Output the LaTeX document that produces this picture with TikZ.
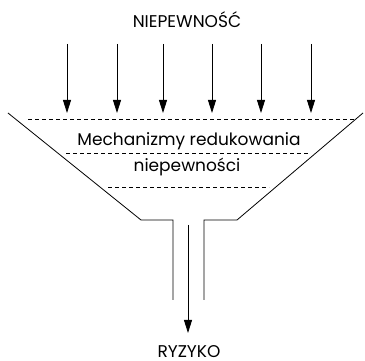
\documentclass[tikz,border=0pt]{standalone}
\usepackage{fontspec}
\setmainfont{Poppins}
\usetikzlibrary{arrows.meta}
\begin{document}
\begin{tikzpicture}[x=1pt,y=-1pt,
  line width=0.8pt,
  flow/.style={-{Triangle[width=8pt,length=13pt]}},
  level/.style={dashed,dash pattern=on 4pt off 3pt,line width=0.7pt},
  txt/.style={font=\fontsize{17}{20}\selectfont,inner sep=0pt,anchor=base}]
  \useasboundingbox (0,0) rectangle (365,361);
  % titles
  \node[txt] (unc) at (187,28) {NIEPEWNOŚĆ};
  \node[txt] (risk) at (189,357) {RYZYKO};
  \node[txt] (mech1) at (189,146) {Mechanizmy redukowania};
  \node[txt] (mech2) at (187,172) {niepewności};
  % incoming uncertainty arrows
  \foreach \i/\x in {1/67,2/117,3/163,4/212,5/261,6/311} {
    \coordinate (s\i) at (\x,44);
    \coordinate (e\i) at (\x,113);
    \draw[flow] (s\i) -- (e\i);
  }
  % funnel outline
  \coordinate (tl) at (8,113);
  \coordinate (bl) at (141,220);
  \coordinate (nl) at (173,220);
  \coordinate (ql) at (173,300);
  \coordinate (tr) at (363,113);
  \coordinate (br) at (237,220);
  \coordinate (nr) at (204,220);
  \coordinate (qr) at (204,300);
  \draw (tl) -- (bl) -- (nl) -- (ql);
  \draw (tr) -- (br) -- (nr) -- (qr);
  % dashed levels inside the funnel
  \coordinate (d1a) at (28,119);  \coordinate (d1b) at (354,119);
  \coordinate (d2a) at (66,153);  \coordinate (d2b) at (308,153);
  \coordinate (d3a) at (108,187); \coordinate (d3b) at (269,187);
  \draw[level] (d1a) -- (d1b);
  \draw[level] (d2a) -- (d2b);
  \draw[level] (d3a) -- (d3b);
  % outgoing risk arrow
  \coordinate (os) at (188,225);
  \coordinate (oe) at (188,333);
  \draw[flow] (os) -- (oe);
\end{tikzpicture}
\end{document}
